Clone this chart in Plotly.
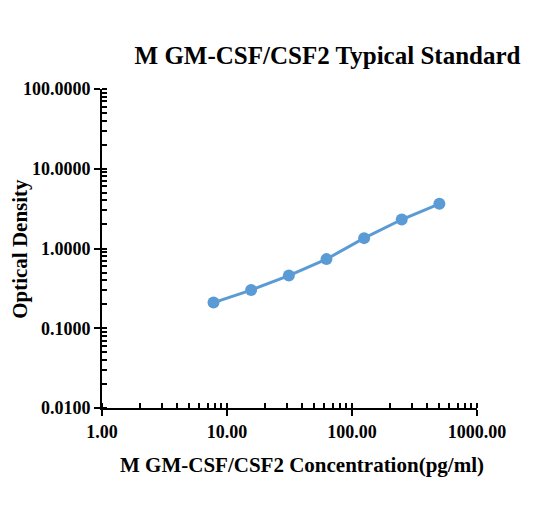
import plotly.graph_objects as go

concentration = [7.8, 15.6, 31.25, 62.5, 125, 250, 500]
optical_density = [0.210, 0.301, 0.458, 0.736, 1.349, 2.31, 3.63]

title_text = "M GM-CSF/CSF2 Typical Standard"
x_title = "M GM-CSF/CSF2 Concentration(pg/ml)"
y_title = "Optical Density"

FONT = "Liberation Serif, Times New Roman, serif"
COLOR = "#5B9BD5"
OFF = 8  # page body margin

W, H = 551 - OFF, 512 - OFF
L, T = 102 - OFF, 89 - OFF
PW, PH = 375, 319.3

fig = go.Figure()
fig.add_trace(go.Scatter(
    x=concentration, y=optical_density, mode="lines+markers",
    line=dict(color=COLOR, width=3),
    marker=dict(color=COLOR, size=12),
    showlegend=False,
))

axis_common = dict(
    type="log", showline=True, linewidth=2, linecolor="black",
    ticks="outside", ticklen=6, tickwidth=2, tickcolor="black",
    showgrid=False, zeroline=False, dtick=1,
    tickfont=dict(family=FONT, size=18, color="black", weight="bold"),
    minor=dict(ticks="inside", ticklen=5, tickwidth=1.5, tickcolor="black", dtick="D1", showgrid=False),
)

fig.update_xaxes(range=[0, 3], tickformat=".2f", **axis_common)
fig.update_yaxes(range=[-2, 2], tickformat=".4f", **axis_common)

fig.update_layout(
    width=W, height=H,
    margin=dict(l=L, r=W - L - PW, t=T, b=H - T - PH),
    paper_bgcolor="white", plot_bgcolor="white",
    title=dict(text=title_text, x=(327.5 - OFF) / W, xanchor="center",
               y=1 - (55 - OFF) / H, yanchor="middle", xref="container", yref="container",
               font=dict(family=FONT, size=25, color="black", weight="bold")),
    annotations=[
        dict(text=x_title, xref="paper", yref="paper", x=(302 - 101.7) / PW, y=(408.3 - 465) / PH,
             xanchor="center", yanchor="middle", showarrow=False,
             font=dict(family=FONT, size=21, color="black", weight="bold")),
        dict(text=y_title, xref="paper", yref="paper", x=(19 - 101.7) / PW, y=0.5,
             xanchor="center", yanchor="middle", showarrow=False, textangle=-90,
             font=dict(family=FONT, size=21, color="black", weight="bold")),
    ],
)

fig.write_html("out.html")
